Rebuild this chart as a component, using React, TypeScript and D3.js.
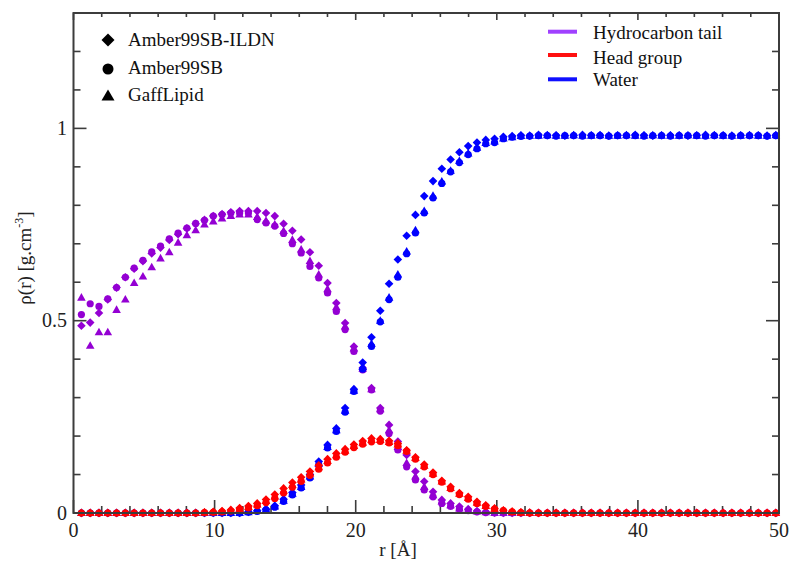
import React from 'react';
import * as d3 from 'd3';

// r grid (Å): bins start at R_START with step R_STEP, 80 bins
const R_START = 0.56;
const R_STEP = 0.623;

// Hydrocarbon tail density
const tailILDN = [
  0.487, 0.495, 0.52, 0.555, 0.586, 0.613, 0.635, 0.655, 0.675, 0.69,
  0.71, 0.725, 0.74, 0.752, 0.762, 0.772, 0.777, 0.782, 0.785, 0.785,
  0.785, 0.78, 0.772, 0.752, 0.734, 0.711, 0.678, 0.643, 0.598, 0.546,
  0.494, 0.433, 0.377, 0.325, 0.273, 0.229, 0.186, 0.151, 0.108, 0.082,
  0.055, 0.034, 0.025, 0.017, 0.01, 0.005, 0.003, 0.001, 0, 0,
  0, 0, 0, 0, 0, 0, 0, 0, 0, 0,
  0, 0, 0, 0, 0, 0, 0, 0, 0, 0,
  0, 0, 0, 0, 0, 0, 0, 0, 0, 0,
];
const tail99SB = [
  0.516, 0.544, 0.537, 0.557, 0.586, 0.613, 0.637, 0.657, 0.679, 0.694,
  0.713, 0.728, 0.741, 0.753, 0.761, 0.772, 0.776, 0.78, 0.78, 0.78,
  0.763, 0.754, 0.746, 0.727, 0.7, 0.676, 0.641, 0.611, 0.572, 0.524,
  0.477, 0.42, 0.372, 0.32, 0.265, 0.207, 0.164, 0.12, 0.086, 0.06,
  0.042, 0.025, 0.017, 0.01, 0.006, 0.003, 0.001, 0, 0, 0,
  0, 0, 0, 0, 0, 0, 0, 0, 0, 0,
  0, 0, 0, 0, 0, 0, 0, 0, 0, 0,
  0, 0, 0, 0, 0, 0, 0, 0, 0, 0,
];
const tailGaff = [
  0.56, 0.435, 0.47, 0.47, 0.528, 0.555, 0.598, 0.615, 0.639, 0.662,
  0.678, 0.703, 0.722, 0.735, 0.75, 0.758, 0.766, 0.772, 0.776, 0.776,
  0.77, 0.76, 0.75, 0.733, 0.71, 0.685, 0.655, 0.62, 0.582, 0.535,
  0.485, 0.428, 0.375, 0.322, 0.27, 0.215, 0.172, 0.13, 0.095, 0.068,
  0.046, 0.03, 0.02, 0.012, 0.007, 0.004, 0.002, 0, 0, 0,
  0, 0, 0, 0, 0, 0, 0, 0, 0, 0,
  0, 0, 0, 0, 0, 0, 0, 0, 0, 0,
  0, 0, 0, 0, 0, 0, 0, 0, 0, 0,
];

// Head group density
const headILDN = [
  0, 0, 0, 0, 0, 0, 0, 0, 0, 0,
  0, 0, 0, 0, 0.002, 0.003, 0.005, 0.008, 0.013, 0.018,
  0.025, 0.035, 0.048, 0.064, 0.079, 0.093, 0.108, 0.124, 0.14, 0.155,
  0.166, 0.178, 0.187, 0.194, 0.192, 0.188, 0.181, 0.163, 0.145, 0.126,
  0.105, 0.084, 0.068, 0.052, 0.042, 0.029, 0.02, 0.012, 0.007, 0.004,
  0.002, 0.001, 0, 0, 0, 0, 0, 0, 0, 0,
  0, 0, 0, 0, 0, 0, 0, 0, 0, 0,
  0, 0, 0, 0, 0, 0, 0, 0, 0, 0,
];
const head99SB = [
  0, 0, 0, 0, 0, 0, 0, 0, 0, 0,
  0, 0, 0, 0, 0.001, 0.002, 0.003, 0.005, 0.009, 0.013,
  0.019, 0.027, 0.038, 0.052, 0.067, 0.082, 0.098, 0.114, 0.13, 0.145,
  0.158, 0.17, 0.179, 0.185, 0.186, 0.182, 0.175, 0.16, 0.14, 0.12,
  0.1, 0.08, 0.063, 0.048, 0.036, 0.025, 0.017, 0.01, 0.006, 0.003,
  0.001, 0, 0, 0, 0, 0, 0, 0, 0, 0,
  0, 0, 0, 0, 0, 0, 0, 0, 0, 0,
  0, 0, 0, 0, 0, 0, 0, 0, 0, 0,
];
const headGaff = [
  0, 0, 0, 0, 0, 0, 0, 0, 0, 0,
  0, 0, 0, 0, 0.001, 0.002, 0.004, 0.006, 0.011, 0.016,
  0.022, 0.031, 0.043, 0.058, 0.073, 0.087, 0.103, 0.119, 0.135, 0.15,
  0.162, 0.174, 0.183, 0.19, 0.19, 0.185, 0.178, 0.162, 0.143, 0.123,
  0.102, 0.082, 0.065, 0.05, 0.039, 0.027, 0.018, 0.011, 0.006, 0.003,
  0.001, 0, 0, 0, 0, 0, 0, 0, 0, 0,
  0, 0, 0, 0, 0, 0, 0, 0, 0, 0,
  0, 0, 0, 0, 0, 0, 0, 0, 0, 0,
];

// Water density
const waterILDN = [
  0, 0, 0, 0, 0, 0, 0, 0, 0, 0,
  0, 0, 0, 0, 0, 0, 0, 0, 0, 0.003,
  0.006, 0.01, 0.019, 0.036, 0.053, 0.073, 0.1, 0.134, 0.177, 0.22,
  0.273, 0.322, 0.391, 0.457, 0.526, 0.596, 0.659, 0.721, 0.775, 0.824,
  0.863, 0.895, 0.919, 0.938, 0.954, 0.963, 0.97, 0.973, 0.978, 0.98,
  0.982, 0.981, 0.983, 0.982, 0.982, 0.981, 0.982, 0.983, 0.982, 0.982,
  0.981, 0.982, 0.982, 0.983, 0.982, 0.981, 0.982, 0.982, 0.982, 0.981,
  0.982, 0.983, 0.982, 0.982, 0.981, 0.982, 0.982, 0.982, 0.981, 0.982,
];
const water99SB = [
  0, 0, 0, 0, 0, 0, 0, 0, 0, 0,
  0, 0, 0, 0, 0, 0, 0, 0, 0, 0.002,
  0.004, 0.008, 0.015, 0.03, 0.047, 0.065, 0.091, 0.125, 0.169, 0.212,
  0.262, 0.316, 0.374, 0.433, 0.497, 0.555, 0.613, 0.674, 0.728, 0.78,
  0.819, 0.857, 0.887, 0.911, 0.932, 0.947, 0.96, 0.963, 0.973, 0.977,
  0.979, 0.98, 0.981, 0.981, 0.98, 0.981, 0.981, 0.98, 0.981, 0.981,
  0.98, 0.981, 0.981, 0.981, 0.98, 0.981, 0.981, 0.98, 0.981, 0.981,
  0.981, 0.98, 0.981, 0.981, 0.98, 0.981, 0.981, 0.981, 0.98, 0.981,
];
const waterGaff = [
  0, 0, 0, 0, 0, 0, 0, 0, 0, 0,
  0, 0, 0, 0, 0, 0, 0, 0, 0, 0.002,
  0.005, 0.009, 0.017, 0.032, 0.05, 0.068, 0.095, 0.128, 0.172, 0.215,
  0.266, 0.318, 0.38, 0.44, 0.5, 0.56, 0.62, 0.68, 0.735, 0.785,
  0.825, 0.862, 0.89, 0.915, 0.935, 0.95, 0.962, 0.966, 0.974, 0.977,
  0.98, 0.981, 0.981, 0.982, 0.981, 0.981, 0.982, 0.981, 0.981, 0.982,
  0.981, 0.981, 0.982, 0.981, 0.981, 0.982, 0.981, 0.981, 0.981, 0.982,
  0.981, 0.981, 0.982, 0.981, 0.981, 0.981, 0.982, 0.981, 0.981, 0.982,
];

const xTickValues = [0, 10, 20, 30, 40, 50];
const yTickValues = [0, 0.5, 1];
const yTickLabels = ['0', '0.5', '1'];

const forceFields = ['Amber99SB-ILDN', 'Amber99SB', 'GaffLipid'];
const components = ['Hydrocarbon tail', 'Head group', 'Water'];

const PURPLE = '#9400d3';
const RED = '#ff0000';
const BLUE = '#0000ff';

const FONT = 'Liberation Serif';

function diamondPath(s: number) {
  return `M0,${-s}L${s},0L0,${s}L${-s},0Z`;
}
function trianglePath(w: number, h: number) {
  return `M0,${-h * 0.6}L${w / 2},${h * 0.4}L${-w / 2},${h * 0.4}Z`;
}
function circlePath(r: number) {
  return `M${r},0A${r},${r} 0 1,1 ${-r},0A${r},${r} 0 1,1 ${r},0Z`;
}

const W = 793;
const H = 564;
const LEFT = 73.5;
const RIGHT = 779;
const TOP = 13;
const BOTTOM = 513;
const AXIS = '#3c3c3c';

export default function App() {
  const x = d3.scaleLinear().domain([0, 50]).range([LEFT, RIGHT]);
  const y = d3.scaleLinear().domain([0, 1.3]).range([BOTTOM, TOP]);
  const rOf = (i: number) => R_START + R_STEP * i;

  const xTicks = d3.range(0, 50.001, 2);
  const yTicks = d3.range(0, 13.5, 1).map((t) => t / 10);

  const shapes = [diamondPath(4.3), circlePath(3.6), trianglePath(8.6, 7.6)];
  const groups: [number[][], string][] = [
    [[tailILDN, tail99SB, tailGaff], PURPLE],
    [[waterILDN, water99SB, waterGaff], BLUE],
    [[headILDN, head99SB, headGaff], RED],
  ];

  const legSym = [diamondPath(6.5), circlePath(5.5), trianglePath(13, 11)];
  const legY = [40, 69, 96];
  const legBase = [45.5, 74, 101];
  const compColors = ['#a040ff', '#ff1010', '#1010ff'];
  const lineY = [31.7, 55, 79.3];
  const textBase = [38.5, 63.5, 86];

  const textStyle = (size: number): React.CSSProperties => ({ fontFamily: FONT, fontSize: size });

  return (
    <svg
      width={W}
      height={H}
      style={{ position: 'absolute', left: 0, top: 0, display: 'block', fontFamily: FONT }}
    >
      <rect width={W} height={H} fill="#fff" />

      {/* ticks */}
      {xTicks.map((v) => {
        const major = Math.round(v) % 10 === 0;
        return (
          <g key={`xt${v}`} stroke={AXIS} strokeWidth={1.6}>
            <line x1={x(v)} x2={x(v)} y1={BOTTOM} y2={BOTTOM - (major ? 13 : 7)} />
            <line x1={x(v)} x2={x(v)} y1={TOP} y2={TOP + (major ? 7 : 4)} />
          </g>
        );
      })}
      {yTicks.map((v) => {
        const major = Math.round(v * 10) % 5 === 0;
        const len = major ? 13 : 7;
        return (
          <g key={`yt${v}`} stroke={AXIS} strokeWidth={1.6}>
            <line x1={LEFT} x2={LEFT + len} y1={y(v)} y2={y(v)} />
            <line x1={RIGHT} x2={RIGHT - len} y1={y(v)} y2={y(v)} />
          </g>
        );
      })}

      {/* data */}
      {groups.map(([series, color], gi) => (
        <g key={`g${gi}`} fill={color}>
          {series.map((vals, k) =>
            vals.map((d, i) => (
              <path
                key={`${gi}-${k}-${i}`}
                d={shapes[k]}
                transform={`translate(${x(rOf(i))},${y(d)})`}
              />
            ))
          )}
        </g>
      ))}

      {/* frame */}
      <rect
        x={LEFT}
        y={TOP}
        width={RIGHT - LEFT}
        height={BOTTOM - TOP}
        fill="none"
        stroke={AXIS}
        strokeWidth={2}
      />

      {/* tick labels */}
      {xTickValues.map((v) => (
        <text key={`xl${v}`} x={x(v)} y={537} textAnchor="middle" fill="#222" style={textStyle(20)}>
          {String(v)}
        </text>
      ))}
      {yTickValues.map((v, k) => (
        <text key={`yl${v}`} x={67} y={y(v) + 6.5} textAnchor="end" fill="#222" style={textStyle(20)}>
          {yTickLabels[k]}
        </text>
      ))}

      {/* axis labels */}
      <text x={398} y={556} textAnchor="middle" fill="#222" style={textStyle(19)}>
        r [Å]
      </text>
      <text transform="translate(31,258) rotate(-90)" textAnchor="middle" fill="#222" style={textStyle(19)}>
        <tspan>ρ(r) [g.cm</tspan>
        <tspan dy={-8} style={{ fontSize: 12 }}>-3</tspan>
        <tspan dy={8}>]</tspan>
      </text>

      {/* legend: force fields */}
      {forceFields.map((name, k) => (
        <g key={`ff${k}`}>
          <path d={legSym[k]} transform={`translate(108,${legY[k]})`} fill="#000" />
          <text x={128} y={legBase[k]} fill="#111" style={textStyle(19)}>
            {name}
          </text>
        </g>
      ))}

      {/* legend: components */}
      {components.map((name, k) => (
        <g key={`cp${k}`}>
          <line x1={548} x2={577} y1={lineY[k]} y2={lineY[k]} stroke={compColors[k]} strokeWidth={4} />
          <text x={593} y={textBase[k]} fill="#111" style={textStyle(19)}>
            {name}
          </text>
        </g>
      ))}
    </svg>
  );
}
